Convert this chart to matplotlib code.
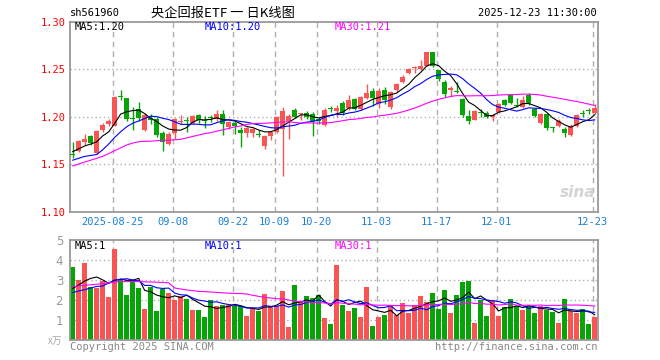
import numpy as np
import pandas as pd
import matplotlib.pyplot as plt

plt.rcParams['font.family'] = ['DejaVu Sans Mono', 'Noto Sans CJK SC']

# daily K data, 2025-08-14 .. 2025-12-23 (88 sessions)
opens = [1.161, 1.164, 1.173, 1.179, 1.162, 1.186, 1.192, 1.190, 1.222, 1.219,
         1.198, 1.208, 1.186, 1.198, 1.197, 1.183, 1.171, 1.183, 1.194, 1.196,
         1.193, 1.202, 1.196, 1.200, 1.197, 1.203, 1.189, 1.193, 1.186, 1.183,
         1.183, 1.182, 1.169, 1.180, 1.184, 1.187, 1.195, 1.207, 1.2025, 1.2035,
         1.203, 1.197, 1.191, 1.209, 1.206, 1.2145, 1.209, 1.218, 1.208, 1.219,
         1.2265, 1.213, 1.228, 1.2097, 1.228, 1.236, 1.2455, 1.2515, 1.250, 1.2535,
         1.268, 1.249, 1.236, 1.228, 1.226, 1.218, 1.201, 1.1965, 1.2045, 1.2035,
         1.1995, 1.205, 1.2175, 1.2225, 1.2115, 1.2105, 1.2225, 1.2075, 1.1935, 1.2025,
         1.189, 1.1895, 1.1865, 1.1805, 1.190, 1.2035, 1.2065, 1.2035]
highs = [1.1735, 1.175, 1.182, 1.1805, 1.186, 1.193, 1.197, 1.222, 1.228, 1.219,
         1.210, 1.215, 1.204, 1.203, 1.199, 1.185, 1.184, 1.198, 1.202, 1.199,
         1.202, 1.203, 1.201, 1.202, 1.207, 1.207, 1.195, 1.196, 1.189, 1.189,
         1.188, 1.186, 1.181, 1.185, 1.201, 1.210, 1.203, 1.209, 1.204, 1.206,
         1.205, 1.199, 1.209, 1.211, 1.212, 1.216, 1.223, 1.219, 1.222, 1.234,
         1.230, 1.230, 1.231, 1.227, 1.2355, 1.244, 1.251, 1.253, 1.2595, 1.268,
         1.268, 1.249, 1.2384, 1.232, 1.2366, 1.220, 1.207, 1.2065, 1.2075, 1.206,
         1.2025, 1.214, 1.218, 1.2235, 1.2192, 1.2216, 1.225, 1.2085, 1.2035, 1.2035,
         1.189, 1.1975, 1.189, 1.1925, 1.2025, 1.2066, 1.2085, 1.213]
lows = [1.156, 1.163, 1.170, 1.170, 1.161, 1.184, 1.190, 1.190, 1.217, 1.195,
        1.186, 1.195, 1.185, 1.192, 1.178, 1.164, 1.170, 1.176, 1.192, 1.184,
        1.192, 1.193, 1.188, 1.194, 1.195, 1.181, 1.187, 1.182, 1.168, 1.178,
        1.178, 1.178, 1.166, 1.175, 1.183, 1.137, 1.176, 1.198, 1.196, 1.197,
        1.180, 1.192, 1.190, 1.205, 1.200, 1.202, 1.207, 1.207, 1.207, 1.218,
        1.2115, 1.209, 1.213, 1.208, 1.226, 1.235, 1.2445, 1.2455, 1.249, 1.2535,
        1.252, 1.2374, 1.2208, 1.2215, 1.225, 1.200, 1.192, 1.196, 1.1995, 1.198,
        1.1956, 1.204, 1.211, 1.213, 1.2097, 1.2086, 1.2125, 1.1995, 1.1925, 1.1858,
        1.1835, 1.1885, 1.178, 1.1795, 1.189, 1.1998, 1.203, 1.2025]
closes = [1.160, 1.174, 1.176, 1.172, 1.185, 1.191, 1.195, 1.221, 1.221, 1.197,
          1.197, 1.198, 1.202, 1.196, 1.181, 1.173, 1.182, 1.197, 1.195, 1.195,
          1.201, 1.196, 1.195, 1.198, 1.203, 1.192, 1.194, 1.190, 1.183, 1.188,
          1.187, 1.181, 1.180, 1.184, 1.199, 1.206, 1.201, 1.199, 1.2035, 1.200,
          1.195, 1.195, 1.207, 1.208, 1.209, 1.2035, 1.217, 1.208, 1.221, 1.225,
          1.219, 1.227, 1.2175, 1.226, 1.234, 1.242, 1.250, 1.2525, 1.2535, 1.268,
          1.2535, 1.240, 1.2235, 1.230, 1.2255, 1.2015, 1.195, 1.2055, 1.2035, 1.1995,
          1.2015, 1.213, 1.212, 1.214, 1.211, 1.2175, 1.214, 1.2005, 1.2025, 1.1875,
          1.188, 1.1955, 1.1825, 1.190, 1.2015, 1.203, 1.206, 1.2085]
volumes = [3.65, 3.0, 3.85, 2.65, 2.6, 2.93, 2.15, 4.55, 3.02, 2.25,
           2.98, 2.6, 1.55, 2.65, 1.45, 2.57, 2.35, 2.02, 2.2, 2.07,
           1.52, 1.52, 1.15, 2.02, 1.68, 1.77, 1.77, 1.68, 1.68, 1.2,
           1.6, 1.47, 2.3, 1.68, 1.68, 2.47, 0.67, 2.75, 1.93, 2.22,
           2.1, 2.27, 1.1, 0.8, 3.77, 1.73, 1.47, 1.6, 1.15, 2.65,
           0.7, 1.15, 1.25, 1.68, 1.27, 1.85, 1.35, 1.77, 2.2, 1.9,
           2.35, 1.57, 2.5, 1.35, 2.25, 2.92, 2.97, 0.85, 2.02, 1.2,
           1.98, 1.2, 1.65, 2.05, 1.68, 1.52, 1.68, 1.35, 1.68, 1.52,
           1.4, 0.85, 2.05, 1.47, 1.35, 1.55, 0.8, 1.15]

# MA values at the start of the window (history before 08-14 is not shown)
ma5_head = [1.163, 1.166, 1.169, 1.171]
ma10_head = [1.154, 1.156, 1.158, 1.159, 1.160, 1.165, 1.171, 1.178, 1.184]
ma30_head = [1.148, 1.150, 1.152, 1.154, 1.156, 1.158, 1.161, 1.164, 1.167, 1.170,
             1.172, 1.1735, 1.174, 1.174, 1.1745, 1.175, 1.175, 1.1755, 1.176, 1.1775,
             1.179, 1.1805, 1.182, 1.183, 1.1845, 1.186, 1.1875, 1.189, 1.190]
vma5_head = [2.58, 2.75, 2.95, 3.08]
vma10_head = [2.37, 2.45, 2.52, 2.6, 2.68, 2.7, 2.85, 3.0, 3.03]
vma30_head = [2.67, 2.70, 2.73, 2.76, 2.79, 2.82, 2.85, 2.9, 2.92, 2.92,
              2.92, 2.92, 2.91, 2.9, 2.89, 2.88, 2.86, 2.6, 2.55, 2.5,
              2.47, 2.43, 2.42, 2.4, 2.38, 2.36, 2.34, 2.33, 2.32]

tick_idx = [7, 17, 27, 34, 41, 51, 61, 71, 87]
tick_labels = ['2025-08-25', '09-08', '09-22', '10-09', '10-20', '11-03', '11-17', '12-01', '12-23']


def moving(values, n, head):
    m = pd.Series(values).rolling(n).mean().to_numpy()
    m[:n - 1] = head
    return m


RED = '#fa5555'
GREEN = '#06a406'
GRID = '#b0b0b0'

n = len(closes)
xs = np.arange(n) + 0.45
o = np.array(opens); c = np.array(closes)
up = c >= o
cols = np.where(up, RED, GREEN)

fig = plt.figure(figsize=(6.6, 3.6), dpi=100)
ax = fig.add_axes([70 / 660, 148.5 / 360, 528 / 660, 190 / 360])
axv = fig.add_axes([70 / 660, 20 / 360, 528 / 660, 100 / 360])

for a in (ax, axv):
    a.set_xlim(0, n)
    for t in tick_idx:
        a.axvline(t + 0.1, color=GRID, lw=1, ls=(0, (4, 3)), zorder=0)
    for s in a.spines.values():
        s.set_color('#999999')
        s.set_linewidth(1.3)

# price panel
ax.set_ylim(1.10, 1.30)
for yv in [1.15, 1.20, 1.25]:
    ax.axhline(yv, color=GRID, lw=1, ls=(0, (1, 2)), zorder=0)
ax.vlines(xs, lows, highs, colors=cols, lw=1, zorder=2)
body = np.maximum(np.abs(c - o), 0.0009)
ax.bar(xs, body, bottom=np.minimum(o, c), width=0.8, color=cols, zorder=3)

ma5 = moving(closes, 5, ma5_head)
ma10 = moving(closes, 10, ma10_head)
ma30 = moving(closes, 30, ma30_head)
ax.plot(xs, ma5, color='black', lw=0.8, zorder=4)
ax.plot(xs, ma10, color='#0000ff', lw=0.8, zorder=4)
ax.plot(xs, ma30, color='#ff00ff', lw=0.8, zorder=4)

ax.set_yticks([1.10, 1.15, 1.20, 1.25, 1.30])
ax.set_yticklabels(['%.2f' % v for v in [1.10, 1.15, 1.20, 1.25, 1.30]], color='red', fontsize=7.5)
ax.set_xticks([t + 0.1 for t in tick_idx])
ax.set_xticklabels(tick_labels, color='#1a80d8', fontsize=7.5)
ax.tick_params(length=0, pad=3)
ax.tick_params(axis='x', pad=4)

ax.text(5 / 528, 1 - 6 / 190, 'MA5:%.2f' % ma5[-1], transform=ax.transAxes, color='black', fontsize=7.5, va='center')
ax.text(135 / 528, 1 - 6 / 190, 'MA10:%.2f' % ma10[-1], transform=ax.transAxes, color='#0000ff', fontsize=7.5, va='center')
ax.text(265 / 528, 1 - 6 / 190, 'MA30:%.2f' % ma30[-1], transform=ax.transAxes, color='#ff00ff', fontsize=7.5, va='center')
ax.text(0.995, 0.1, 'sina', transform=ax.transAxes, color='#d4d4d4', fontsize=11,
        fontweight='bold', style='italic', family='DejaVu Sans', ha='right', va='center')

# volume panel
axv.set_ylim(0, 5)
for yv in [1, 2, 3, 4]:
    axv.axhline(yv, color=GRID, lw=1, ls=(0, (1, 2)), zorder=0)
axv.bar(xs, volumes, width=0.8, color=cols, zorder=2)
vma5 = moving(volumes, 5, vma5_head)
vma10 = moving(volumes, 10, vma10_head)
vma30 = moving(volumes, 30, vma30_head)
axv.plot(xs, vma5, color='black', lw=0.8, zorder=4)
axv.plot(xs, vma10, color='#0000ff', lw=0.8, zorder=4)
axv.plot(xs, vma30, color='#ff00ff', lw=0.8, zorder=4)
axv.set_xticks([])
axv.set_yticks([1, 2, 3, 4, 5])
axv.set_yticklabels(['1', '2', '3', '4', '5'], color='#999999', fontsize=8.5, family='DejaVu Sans')
axv.tick_params(length=0, pad=5)
axv.text(5 / 528, 1 - 6 / 100, 'MA5:%d' % int(vma5[-1]), transform=axv.transAxes, color='black', fontsize=7.5, va='center')
axv.text(135 / 528, 1 - 6 / 100, 'MA10:%d' % int(vma10[-1]), transform=axv.transAxes, color='#0000ff', fontsize=7.5, va='center')
axv.text(265 / 528, 1 - 6 / 100, 'MA30:%d' % int(vma30[-1]), transform=axv.transAxes, color='#ff00ff', fontsize=7.5, va='center')

# header and footer
fig.text(70 / 660, 1 - 13 / 360, 'sh561960', fontsize=7.5, va='center')
fig.text(223 / 660, 1 - 13 / 360, '央企回报ETF 一 日K线图', fontsize=9.5, va='center', ha='center',
         family=['Noto Sans CJK SC', 'DejaVu Sans'])
fig.text(597 / 660, 1 - 13 / 360, '2025-12-23 11:30:00', fontsize=7.5, va='center', ha='right')
fig.text(62 / 660, 1 - 341 / 360, 'x万', fontsize=7, va='center', ha='right', color='#aaaaaa',
         family=['Noto Sans CJK SC', 'DejaVu Sans'])
fig.text(70 / 660, 1 - 347 / 360, 'Copyright 2025 SINA.COM', fontsize=7.5, va='center', color='#888888')
fig.text(597 / 660, 1 - 347 / 360, 'http://finance.sina.com.cn', fontsize=7.5, va='center', ha='right', color='#888888')

fig.savefig('out.png', dpi=100)
